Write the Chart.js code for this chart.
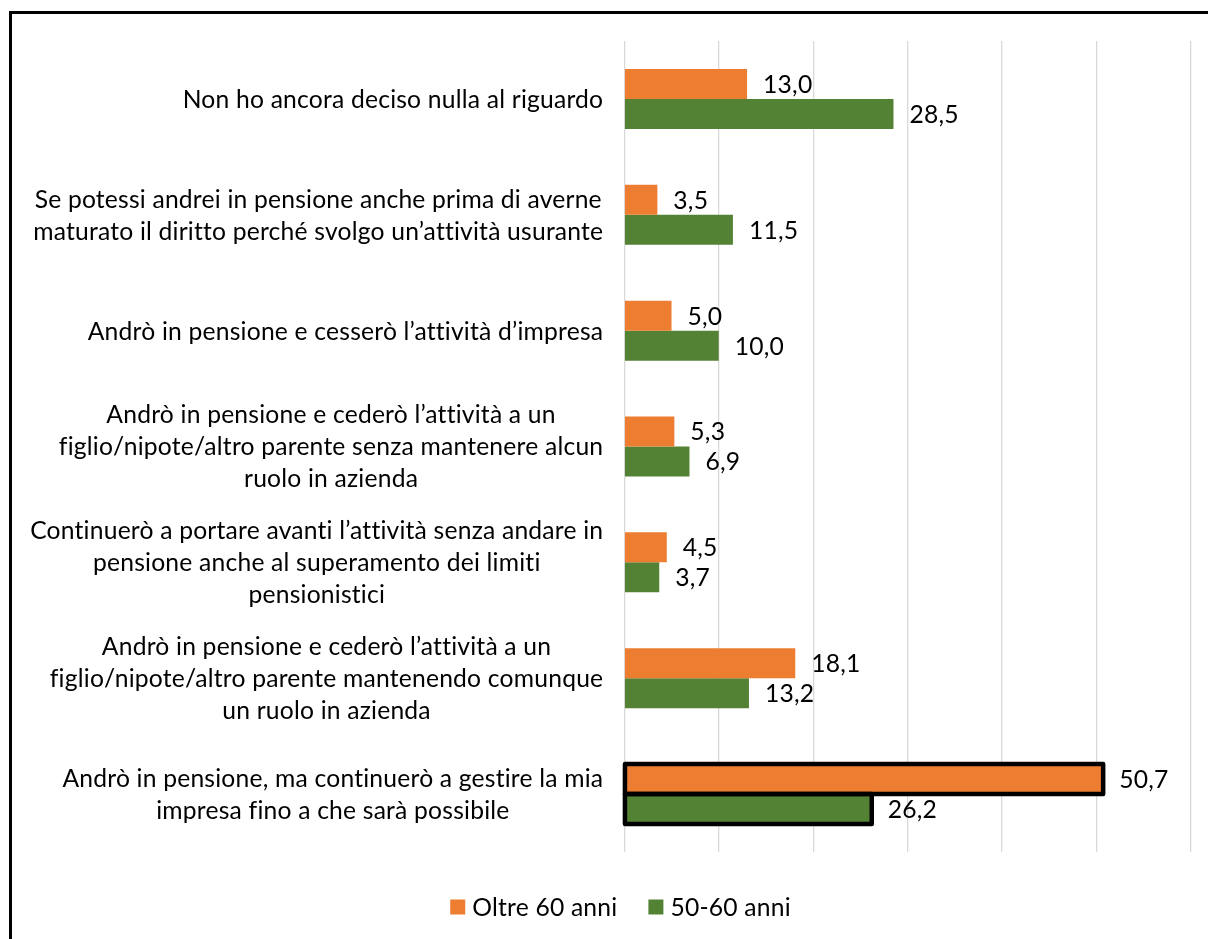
<!DOCTYPE html>
<html><head><meta charset="utf-8">
<script src="https://cdn.jsdelivr.net/npm/chart.js@4.4.1/dist/chart.umd.min.js"></script>
<style>
html,body{margin:0;padding:0;background:#fff;overflow:hidden;width:1208px;height:939px;}
#frame{position:absolute;left:9px;top:11px;width:1400px;height:1200px;border:3px solid #000;box-sizing:border-box;}
#wrap{position:absolute;left:0;top:0;width:1241px;height:939px;}
</style></head><body>
<div id="frame"></div>
<div id="wrap"><canvas id="c" width="1241" height="939"></canvas></div>
<script>
const categories = [
  ["Non ho ancora deciso nulla al riguardo"],
  ["Se potessi andrei in pensione anche prima di averne", "maturato il diritto perché svolgo un’attività usurante"],
  ["Andrò in pensione e cesserò l’attività d’impresa"],
  ["Andrò in pensione e cederò l’attività a un", "figlio/nipote/altro parente senza mantenere alcun", "ruolo in azienda"],
  ["Continuerò a portare avanti l’attività senza andare in", "pensione anche al superamento dei limiti", "pensionistici"],
  ["Andrò in pensione e cederò l’attività a un", "figlio/nipote/altro parente mantenendo comunque", "un ruolo in azienda"],
  ["Andrò in pensione, ma continuerò a gestire la mia", "impresa fino a che sarà possibile"]
];
const seriesNames = ["Oltre 60 anni", "50-60 anni"];
const over60 = [13.0, 3.5, 5.0, 5.3, 4.5, 18.1, 50.7];
const age5060 = [28.5, 11.5, 10.0, 6.9, 3.7, 13.2, 26.2];
const xTicks = [0, 10, 20, 30, 40, 50, 60];
const highlighted = [6];

const COLORS = ['#ED7D31', '#548235'];
const FAMILY = 'Lato, "DejaVu Sans", sans-serif';
const SPACING = '0.2px';
const mctx = document.createElement('canvas').getContext('2d');
mctx.font = '100px ' + FAMILY;
const FS = 100 * 413 / mctx.measureText(categories[0][0]).width;
const FONT = FS.toFixed(2) + 'px ' + FAMILY;

const fmt = v => v.toFixed(1).replace('.', ',');

const drawPlugin = {
  id: 'custom',
  afterDatasetsDraw(chart) {
    const ctx = chart.ctx;
    ctx.save();
    ctx.strokeStyle = '#000';
    ctx.lineWidth = 4.5;
    ctx.lineJoin = 'round';
    chart.data.datasets.forEach((ds, di) => {
      const meta = chart.getDatasetMeta(di);
      highlighted.forEach(i => {
        const el = meta.data[i];
        const h = el.height;
        ctx.strokeRect(el.base, el.y - h / 2, el.x - el.base, h);
      });
    });
    ctx.restore();
  },
  afterDraw(chart) {
    const ctx = chart.ctx;
    const ys = chart.scales.y;
    ctx.save();
    ctx.font = FONT;
    if ('letterSpacing' in ctx) ctx.letterSpacing = SPACING;
    ctx.fillStyle = '#000';
    ctx.textBaseline = 'middle';
    // category labels
    const rightEdge = ys.right - 21;
    const lineH = 32;
    categories.forEach((lines, i) => {
      const y = ys.getPixelForValue(i);
      const bw = Math.max(...lines.map(l => ctx.measureText(l).width));
      const cx = rightEdge - bw / 2;
      ctx.textAlign = 'center';
      lines.forEach((l, j) => {
        ctx.fillText(l, cx, y + (j - (lines.length - 1) / 2) * lineH + 1);
      });
    });
    // data labels
    ctx.textAlign = 'left';
    chart.data.datasets.forEach((ds, di) => {
      const meta = chart.getDatasetMeta(di);
      meta.data.forEach((el, i) => {
        ctx.fillText(fmt(ds.data[i]), el.x + 16, el.y + 1);
      });
    });
    // legend
    const gapBoxText = 7, gapItems = 31, box = 15;
    const widths = seriesNames.map(n => ctx.measureText(n).width);
    const total = widths.reduce((a, w) => a + box + gapBoxText + w, 0) + gapItems * (seriesNames.length - 1);
    let x = 620.5 - total / 2;
    const ly = 907;
    seriesNames.forEach((n, i) => {
      ctx.fillStyle = COLORS[i];
      ctx.fillRect(x, ly - 7.5, box, box);
      ctx.fillStyle = '#000';
      ctx.fillText(n, x + box + gapBoxText, ly + 1);
      x += box + gapBoxText + widths[i] + gapItems;
    });
    ctx.restore();
  }
};

new Chart(document.getElementById('c'), {
  type: 'bar',
  data: {
    labels: categories,
    datasets: [
      { label: seriesNames[0], data: over60, backgroundColor: COLORS[0], categoryPercentage: 0.518, barPercentage: 1 },
      { label: seriesNames[1], data: age5060, backgroundColor: COLORS[1], categoryPercentage: 0.518, barPercentage: 1 }
    ]
  },
  options: {
    indexAxis: 'y',
    responsive: false,
    animation: false,
    devicePixelRatio: 1,
    layout: { padding: { top: 41, left: 48, right: 50, bottom: 87 } },
    scales: {
      x: {
        min: 0, max: 60,
        afterBuildTicks(s) { s.ticks = xTicks.map(v => ({ value: v })); },
        ticks: { display: false },
        grid: { color: '#d9d9d9', lineWidth: 1.3, drawTicks: false },
        border: { display: false },
        afterFit(s) { s.height = 0; }
      },
      y: {
        ticks: { display: false },
        grid: { display: false },
        border: { display: false },
        afterFit(s) { s.width = 576.3; }
      }
    },
    plugins: { legend: { display: false }, tooltip: { enabled: false } }
  },
  plugins: [drawPlugin]
});
</script>
</body></html>
